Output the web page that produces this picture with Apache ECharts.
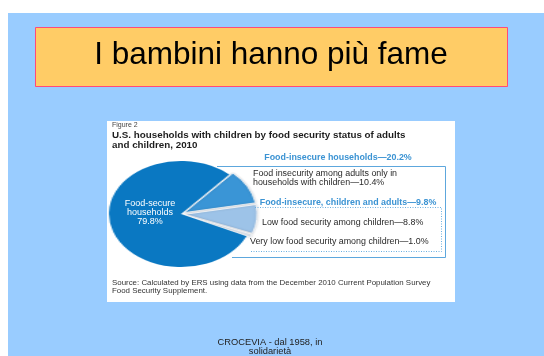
<!DOCTYPE html>
<html>
<head>
<meta charset="utf-8">
<script src="https://cdn.jsdelivr.net/npm/echarts@6/dist/echarts.min.js"></script>
<style>
  html, body { margin: 0; padding: 0; background: #fff; }
  #stage { position: relative; width: 544px; height: 356px; overflow: hidden; }
  #base, #overlay { position: absolute; left: 0; top: 0; width: 544px; height: 356px; }
  /* the pie is drawn round and stretched sideways into the tilted oval */
  #pie { position: absolute; left: 121px; top: 154px; width: 120px; height: 120px;
         transform: scaleX(1.36); transform-origin: 50% 50%; }
</style>
</head>
<body>
<div id="stage">
  <div id="base"></div>
  <div id="pie"></div>
  <div id="overlay"></div>
</div>
<script>
// Household shares (%), households with children, 2010
const sliceKeys = ['adultsOnly', 'lowChildren', 'veryLowChildren', 'secure'];
const sliceValues = [10.4, 8.8, 1.0, 79.8];
const sliceColors = ['#3a95d6', '#9dc3e8', '#e1e8ef', '#0a78c2'];
const insecureFlags = [true, true, true, false];

const slideTitle = 'I bambini hanno più fame';
const figureLabel = 'Figure 2';
const figureTitle = ['U.S. households with children by food security status of adults', 'and children, 2010'];
const sourceLines = ['Source: Calculated by ERS using data from the December 2010 Current Population Survey', 'Food Security Supplement.'];
const footerLines = ['CROCEVIA - dal 1958, in', 'solidarietà'];

const pct = v => v.toFixed(1) + '%';
const insecureTotal = sliceValues[0] + sliceValues[1] + sliceValues[2];
const childrenTotal = sliceValues[1] + sliceValues[2];

const FONT = '"Liberation Sans", Arial, sans-serif';
const BLUE_TEXT = '#3b93d3';
const DARK = '#2a2a2a';

// ---------- background layer ----------
const baseChart = echarts.init(document.getElementById('base'), null, { renderer: 'canvas' });
baseChart.setOption({
  animation: false,
  backgroundColor: '#ffffff',
  graphic: [
    { type: 'rect', shape: { x: 8, y: 13, width: 536, height: 343 }, style: { fill: '#99ccff' } },
    { type: 'rect', shape: { x: 35.5, y: 27.5, width: 472, height: 59 },
      style: { fill: '#ffcc66', stroke: '#ff4a7a', lineWidth: 1 } },
    { type: 'rect', shape: { x: 107, y: 121, width: 348, height: 181 }, style: { fill: '#ffffff' } }
  ]
});

// ---------- pie layer ----------
const pieChart = echarts.init(document.getElementById('pie'), null, { renderer: 'canvas' });
pieChart.setOption({
  animation: false,
  series: [{
    type: 'pie',
    center: ['50%', '50%'],
    radius: [0, 53],
    startAngle: 48,
    clockwise: true,
    selectedMode: 'multiple',
    selectedOffset: 3,
    label: { show: false },
    labelLine: { show: false },
    emphasis: { disabled: true },
    select: { itemStyle: { borderColor: 'rgba(255,255,255,0.95)', borderWidth: 0.8 } },
    data: sliceValues.map((v, i) => ({
      name: sliceKeys[i],
      value: v,
      selected: insecureFlags[i],
      itemStyle: {
        color: sliceColors[i],
        borderColor: insecureFlags[i] ? 'rgba(255,255,255,0.95)' : sliceColors[i],
        borderWidth: insecureFlags[i] ? 0.8 : 0,
        shadowColor: insecureFlags[i] ? 'rgba(60,70,90,0.3)' : 'transparent',
        shadowBlur: insecureFlags[i] ? 2 : 0
      }
    }))
  }]
});

// ---------- text and callout layer ----------
const txt = (x, y, text, size, color, extra) => Object.assign({
  type: 'text', x: x, y: y,
  style: Object.assign({ text: text, font: size + 'px ' + FONT, fill: color,
    textAlign: 'left', textVerticalAlign: 'middle' }, extra && extra.style || {})
}, extra && extra.el || {});

const overlayChart = echarts.init(document.getElementById('overlay'), null, { renderer: 'canvas' });
overlayChart.setOption({
  animation: false,
  backgroundColor: 'transparent',
  graphic: [
    // slide title
    txt(271, 55, slideTitle, 31.5, '#000', { style: { textAlign: 'center' } }),

    // figure heading
    txt(112, 125, figureLabel, 7, '#444'),
    txt(112, 135, figureTitle[0], 9.8, '#1e1e1e', { style: { font: 'bold 9.8px ' + FONT } }),
    txt(112, 145.5, figureTitle[1], 9.8, '#1e1e1e', { style: { font: 'bold 9.8px ' + FONT } }),

    // callout frames
    { type: 'polyline', shape: { points: [[217, 166.5], [445.5, 166.5], [445.5, 257.5], [232, 257.5]] },
      style: { stroke: '#5da7dd', lineWidth: 1, fill: null } },
    { type: 'polyline', shape: { points: [[255, 207.5], [441.5, 207.5], [441.5, 251.5], [250, 251.5]] },
      style: { stroke: '#6aaee0', lineWidth: 1, lineDash: [1, 1.5], fill: null } },

    // callout texts
    txt(338, 158, 'Food-insecure households—' + pct(insecureTotal), 8.9, BLUE_TEXT,
      { style: { textAlign: 'center', font: 'bold 8.9px ' + FONT } }),
    txt(253, 174, 'Food insecurity among adults only in', 8.9, DARK),
    txt(253, 183, 'households with children—' + pct(sliceValues[0]), 8.9, DARK),
    txt(348, 203, 'Food-insecure, children and adults—' + pct(childrenTotal), 8.9, BLUE_TEXT,
      { style: { textAlign: 'center', font: 'bold 8.9px ' + FONT } }),
    txt(262, 223, 'Low food security among children—' + pct(sliceValues[1]), 8.9, DARK),
    txt(250, 242, 'Very low food security among children—' + pct(sliceValues[2]), 8.9, DARK),

    // label inside the large slice
    txt(150, 204, 'Food-secure', 9, '#fff', { style: { textAlign: 'center' } }),
    txt(150, 213, 'households', 9, '#fff', { style: { textAlign: 'center' } }),
    txt(150, 222, pct(sliceValues[3]), 9, '#fff', { style: { textAlign: 'center' } }),

    // source note
    txt(112, 283, sourceLines[0], 7.9, '#333'),
    txt(112, 290.5, sourceLines[1], 7.9, '#333'),

    // footer
    txt(270, 342.5, footerLines[0], 9.3, '#222', { style: { textAlign: 'center' } }),
    txt(270, 351.5, footerLines[1], 9.3, '#222', { style: { textAlign: 'center' } })
  ]
});
</script>
</body>
</html>
